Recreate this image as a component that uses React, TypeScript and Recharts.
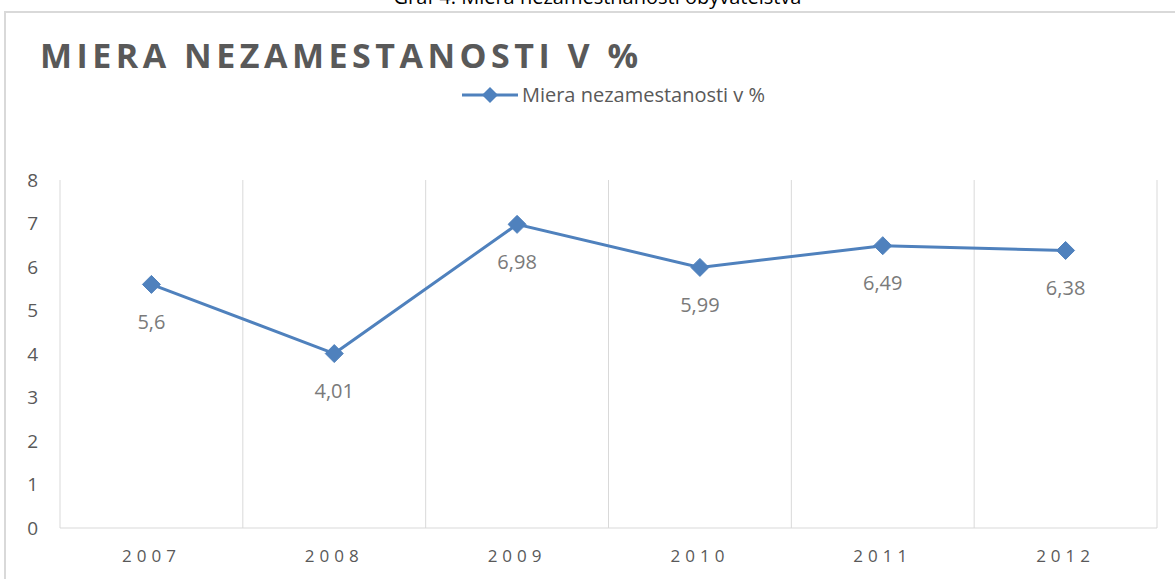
import { LineChart, Line, XAxis, YAxis, CartesianGrid, Legend, LabelList } from 'recharts'

const years = ['2007', '2008', '2009', '2010', '2011', '2012']
const rates = [5.6, 4.01, 6.98, 5.99, 6.49, 6.38]
const yTicks = [0, 1, 2, 3, 4, 5, 6, 7, 8]

const SERIES = 'Miera nezamestanosti v %'
const BLUE = '#4f81bd'
const GREY = '#595959'
const FONT = '"Open Sans", sans-serif'

const data = years.map((year, i) => ({ year, rate: rates[i] }))

const Diamond = (props: any) => {
    const { cx, cy } = props
    if (cx == null || cy == null) return null
    const r = 9
    return (
        <polygon
            points={`${cx},${cy - r} ${cx + r},${cy} ${cx},${cy + r} ${cx - r},${cy}`}
            fill={BLUE}
            stroke={BLUE}
        />
    )
}

const LegendContent = () => (
    <div style={{ display: 'flex', justifyContent: 'center', alignItems: 'center', fontFamily: FONT, fontSize: 20, color: GREY, paddingLeft: 50 }}>
        <svg width={60} height={20}>
            <line x1={2} y1={10} x2={58} y2={10} stroke={BLUE} strokeWidth={3} />
            <polygon points="30,2 38,10 30,18 22,10" fill={BLUE} />
        </svg>
        <span style={{ marginLeft: 2 }}>{SERIES}</span>
    </div>
)

export default function App() {
    return (
        <div style={{ position: 'absolute', left: 0, top: 0, width: 1175, height: 579, overflow: 'hidden', background: '#fff' }}>
            <div style={{ position: 'absolute', left: 0, top: -17, width: 1195, textAlign: 'center', fontFamily: FONT, fontSize: 20, color: '#000' }}>
                Graf 4: Miera nezamestnanosti obyvateľstva
            </div>
            <div style={{ position: 'absolute', left: 4, top: 11, width: 1200, height: 600, border: '2px solid #d9d9d9', boxSizing: 'border-box' }} />
            <div style={{ position: 'absolute', left: 40, top: 32, fontFamily: FONT, fontWeight: 700, fontSize: 34, letterSpacing: 4.5, color: GREY }}>
                MIERA NEZAMESTANOSTI V %
            </div>
            <div style={{ position: 'absolute', left: 0, top: 0 }}>
                <LineChart width={1175} height={579} data={data} margin={{ top: 180, right: 18, bottom: 21, left: 20 }}>
                    <CartesianGrid
                        horizontal={false}
                        stroke="#d9d9d9"
                        verticalCoordinatesGenerator={({ offset }: any) =>
                            [...years.map((_, i) => offset.left + (i * offset.width) / years.length), offset.left + offset.width]
                        }
                    />
                    <XAxis
                        dataKey="year"
                        scale="band"
                        axisLine={{ stroke: '#d9d9d9' }}
                        tickLine={false}
                        height={30}
                        tickMargin={16}
                        tick={{ fill: GREY, fontSize: 17, fontFamily: FONT, letterSpacing: 5 }}
                    />
                    <YAxis
                        domain={[0, 8]}
                        ticks={yTicks}
                        width={40}
                        axisLine={false}
                        tickLine={false}
                        tickSize={0}
                        tickMargin={22}
                        tick={{ fill: GREY, fontSize: 19, fontFamily: FONT }}
                    />
                    <Legend
                        verticalAlign="middle"
                        align="center"
                        content={<LegendContent />}
                        wrapperStyle={{ top: 81, left: 0, width: 1175 }}
                    />
                    <Line
                        type="linear"
                        dataKey="rate"
                        name={SERIES}
                        stroke={BLUE}
                        strokeWidth={3}
                        dot={<Diamond />}
                        activeDot={false}
                        isAnimationActive={false}
                    >
                        <LabelList
                            dataKey="rate"
                            position="bottom"
                            offset={30}
                            formatter={(v: any) => String(v).replace('.', ',')}
                            style={{ fill: '#7a7a7a', fontSize: 20, fontFamily: FONT }}
                        />
                    </Line>
                </LineChart>
            </div>
        </div>
    )
}
